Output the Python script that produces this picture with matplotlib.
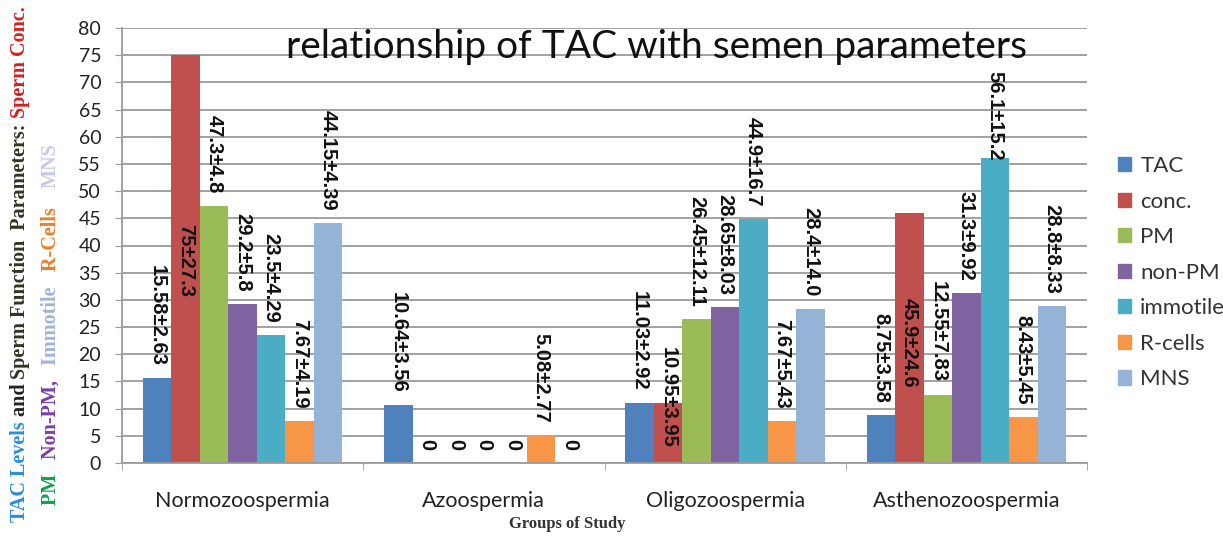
"""Bar chart: relationship of TAC with semen parameters."""
import numpy as np
import matplotlib
matplotlib.use('Agg')
import matplotlib.pyplot as plt
from matplotlib.patches import Patch

GROUPS = ['Normozoospermia', 'Azoospermia', 'Oligozoospermia', 'Asthenozoospermia']
SERIES = ['TAC', 'conc.', 'PM', 'non-PM', 'immotile', 'R-cells', 'MNS']
COLORS = ['#4F81BD', '#C0504D', '#9BBB59', '#8064A2', '#4BACC6', '#F79646', '#95B3D7']

tac = [15.58, 10.64, 11.03, 8.75]
conc = [75, 0, 10.95, 45.9]
pm = [47.3, 0, 26.45, 12.55]
non_pm = [29.2, 0, 28.65, 31.3]
immotile = [23.5, 0, 44.9, 56.1]
r_cells = [7.67, 5.08, 7.67, 8.43]
mns = [44.15, 0, 28.4, 28.8]
VALUES = [tac, conc, pm, non_pm, immotile, r_cells, mns]

tac_lab = ['15.58±2.63', '10.64±3.56', '11.03±2.92', '8.75±3.58']
conc_lab = ['75±27.3', '0', '10.95±3.95', '45.9±24.6']
pm_lab = ['47.3±4.8', '0', '26.45±12.11', '12.55±7.83']
non_pm_lab = ['29.2±5.8', '0', '28.65±8.03', '31.3±9.92']
immotile_lab = ['23.5±4.29', '0', '44.9±16.7', '56.1±15.2']
r_cells_lab = ['7.67±4.19', '5.08±2.77', '7.67±5.43', '8.43±5.45']
mns_lab = ['44.15±4.39', '0', '28.4±14.0', '28.8±8.33']
LABELS = [tac_lab, conc_lab, pm_lab, non_pm_lab, immotile_lab, r_cells_lab, mns_lab]

# labels that Excel pushed down into the bar: (series, group) -> label bottom
LABEL_BOTTOM = {(1, 0): 30.5, (1, 2): 2.8, (1, 3): 13.8, (4, 3): 55.7}

YTICKS = list(range(0, 85, 5))

SANS = ['Lato', 'DejaVu Sans']
LABEL_FONT = ['Liberation Sans', 'DejaVu Sans']
SERIF = ['Liberation Serif', 'DejaVu Serif']
GRID = '#9a9a9a'

fig = plt.figure(figsize=(12.23, 5.37), dpi=100)
ax = fig.add_axes([122/1223, 1-463/537, 965/1223, 435/537])

w = 0.118
x = np.arange(len(GROUPS))
for j, (vals, labs, col) in enumerate(zip(VALUES, LABELS, COLORS)):
    xs = x + (j - 3) * w
    ax.bar(xs, vals, width=w, color=col, zorder=2, label=SERIES[j])
    for i, (xv, v, lab) in enumerate(zip(xs, vals, labs)):
        yb = LABEL_BOTTOM.get((j, i), v + 2.3)
        ax.text(xv, yb, lab, rotation=270, ha='center', va='bottom',
                family=LABEL_FONT, fontweight='bold', fontsize=14.5, color='#111111', zorder=3)

ax.set_xlim(-0.5, 3.5)
ax.set_ylim(0, 80)
ax.set_yticks(YTICKS)
ax.set_xticks(x)
ax.set_xticklabels(GROUPS, family=SANS, fontsize=15.5, color='#222222')
ax.set_xticks(np.arange(-0.5, 4.0, 1.0), minor=True)
ax.tick_params(axis='x', which='major', length=0, pad=20)
ax.tick_params(axis='x', which='minor', length=5, color=GRID, direction='out')
ax.tick_params(axis='y', length=5, color=GRID, pad=10, labelsize=14, labelcolor='#222222')
for lab in ax.get_yticklabels():
    lab.set_family(SANS)
ax.yaxis.grid(True, color=GRID, lw=1.3, zorder=0)
ax.set_axisbelow(True)
for s in ['top', 'right']:
    ax.spines[s].set_visible(False)
for s in ['left', 'bottom']:
    ax.spines[s].set_color(GRID)
    ax.spines[s].set_linewidth(1.3)

fig.text(656/1223, 1-47/537, 'relationship of TAC with semen parameters', ha='center', va='center',
         family=SANS, fontsize=28, color='#111111')
fig.text(567/1223, 1-524/537, 'Groups of Study', ha='center', va='center',
         family=SERIF, fontweight='bold', fontsize=12, color='#333333')

handles = [Patch(color=c, label=s) for c, s in zip(COLORS, SERIES)]
fig.legend(handles=handles, loc='upper left', bbox_to_anchor=(1098/1223, 1-136/537), frameon=False,
           prop={'family': SANS, 'size': 16}, handlelength=0.6, handleheight=0.6, handletextpad=0.4,
           labelspacing=0.7, labelcolor='#333333')

# multi-coloured vertical y label, drawn piece by piece
line1 = [('TAC Levels ', '#2b8fd6'), ('and ', '#222222'), ('Sperm Function  Parameters: ', '#333322'),
         ('Sperm Conc.', '#d42020')]
line2 = [('PM   ', '#14a050'), ('Non-PM,   ', '#7a3fa8'), ('Immotile   ', '#9fb4d6'),
         ('R-Cells    ', '#e8802a'), ('MNS', '#c3cbe6')]

renderer = fig.canvas.get_renderer()


def vertical_parts(xf, yf, parts, size):
    for txt, col in parts:
        t = fig.text(xf, yf, txt, rotation=90, rotation_mode='anchor', ha='left', va='center',
                     color=col, family=SERIF, fontweight='bold', fontsize=size)
        yf += t.get_window_extent(renderer).height / fig.bbox.height


vertical_parts(20/1223, 1-522/537, line1, 14.5)
vertical_parts(51/1223, 1-505/537, line2, 14.5)

fig.savefig('out.png', dpi=100)
